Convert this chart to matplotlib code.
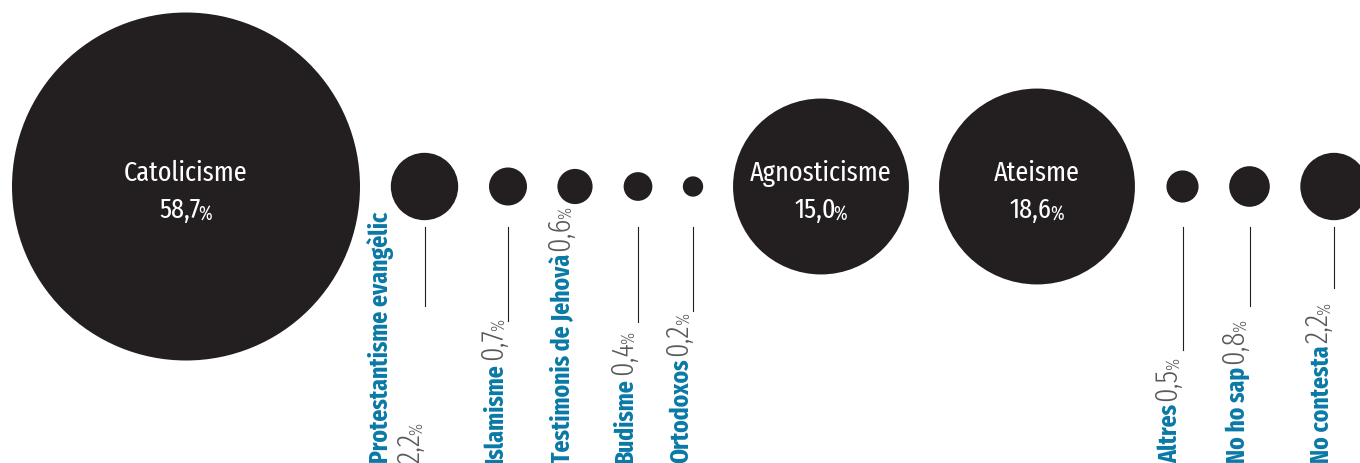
import os
import numpy as np
import matplotlib
matplotlib.use("Agg")
import matplotlib.pyplot as plt
import matplotlib.font_manager as fm
from matplotlib.patches import Circle

# enquesta: religió declarada (%)
labels = ['Catolicisme', 'Protestantisme evangèlic', 'Islamisme', 'Testimonis de Jehovà',
          'Budisme', 'Ortodoxos', 'Agnosticisme', 'Ateisme', 'Altres', 'No ho sap', 'No contesta']
values = [58.7, 2.2, 0.7, 0.6, 0.4, 0.2, 15.0, 18.6, 0.5, 0.8, 2.2]

# layout (pixels)
xpos = [186, 424.5, 508, 575, 638, 693, 821, 1037, 1182.5, 1249.5, 1334]
cy = 187.5
k = 174 / np.sqrt(58.7)          # radius per sqrt(%)
line_end = [None, 307, 322, None, 323, 312, None, None, 351, 307, 289]

dark = '#231f20'
teal = '#0a79a6'
grey = '#58595b'


# look for the narrowest sans font that is installed
def width_rank(fn):
    n = os.path.basename(fn).lower().replace('-', '').replace('_', '')
    if 'extracondensed' in n:
        return 0
    if 'condensed' in n and 'semi' not in n and 'ultra' not in n:
        return 1
    if 'narrow' in n:
        return 2
    if 'semicondensed' in n:
        return 3
    return 9


def weight_num(w):
    if isinstance(w, str):
        return fm.weight_dict.get(w, 400)
    return w


fonts = [f for f in fm.fontManager.ttflist
         if f.style == 'normal' and 'mono' not in f.fname.lower() and 'serif' not in f.fname.lower()
         and 'cjk' not in f.fname.lower()]


def pick(target_w):
    best = min(fonts, key=lambda f: (width_rank(f.fname), abs(weight_num(f.weight) - target_w)))
    if width_rank(best.fname) == 9:
        return fm.FontProperties(family='DejaVu Sans', weight=target_w)
    return fm.FontProperties(fname=best.fname)


fp_reg = pick(400)
fp_bold = pick(700)
fp_light = pick(300)

fig = plt.figure(figsize=(13.6, 4.64), dpi=100)
ax = fig.add_axes([0, 0, 1, 1])
ax.set_xlim(0, 1360)
ax.set_ylim(464, 0)
ax.axis('off')

rend = fig.canvas.get_renderer()


def fit(s, fp, px):
    # font size that gives a text of px pixels wide
    t = ax.text(0, 0, s, fontproperties=fp, fontsize=10)
    w = t.get_window_extent(rend).width
    t.remove()
    return 10 * px / w


fs_in = fit('Catolicisme', fp_reg, 124)
fs_name = fit('Islamisme', fp_bold, 100)
fs_num = fs_name * 1.2
fs_pc = fs_name * 0.7


def pct(v):
    return f'{v:.1f}'.replace('.', ',')


for i, (lab, v, x) in enumerate(zip(labels, values, xpos)):
    r = k * np.sqrt(v)
    ax.add_patch(Circle((x, cy), r, color=dark, lw=0))

    if v >= 10:
        # label inside the bubble
        ax.text(x, cy - 6, lab, color='white', fontproperties=fp_reg, fontsize=fs_in,
                ha='center', va='baseline')
        t = ax.text(x - 6, cy + 31, pct(v), color='white', fontproperties=fp_reg, fontsize=fs_in,
                    ha='center', va='baseline')
        ax.annotate('%', xy=(1, 0), xycoords=t, xytext=(-1.5, 0), textcoords='offset points',
                    color='white', fontproperties=fp_reg, fontsize=fs_in * 0.7,
                    ha='left', va='bottom')
        continue

    if line_end[i] is not None:
        ax.plot([x, x], [228, line_end[i]], color=dark, lw=0.8)

    if lab.startswith('Protestantisme'):
        # two lines: name, then value below
        ax.text(x - 31, 463, lab, color=teal, fontproperties=fp_bold, fontsize=fs_name,
                rotation=90, ha='right', va='bottom')
        t = ax.text(x + 1, 463, pct(v), color=grey, fontproperties=fp_light, fontsize=fs_num,
                    rotation=90, ha='right', va='bottom')
    else:
        t0 = ax.text(x, 463, lab, color=teal, fontproperties=fp_bold, fontsize=fs_name,
                     rotation=90, ha='right', va='bottom')
        t = ax.annotate(pct(v), xy=(1, 1), xycoords=t0, xytext=(0, 2),
                        textcoords='offset points', color=grey, fontproperties=fp_light,
                        fontsize=fs_num, rotation=90, ha='right', va='bottom')
    ax.annotate('%', xy=(1, 1), xycoords=t, xytext=(0, -1.5), textcoords='offset points',
                color=grey, fontproperties=fp_light, fontsize=fs_pc,
                rotation=90, ha='right', va='bottom')

fig.savefig('out.png', dpi=100)
